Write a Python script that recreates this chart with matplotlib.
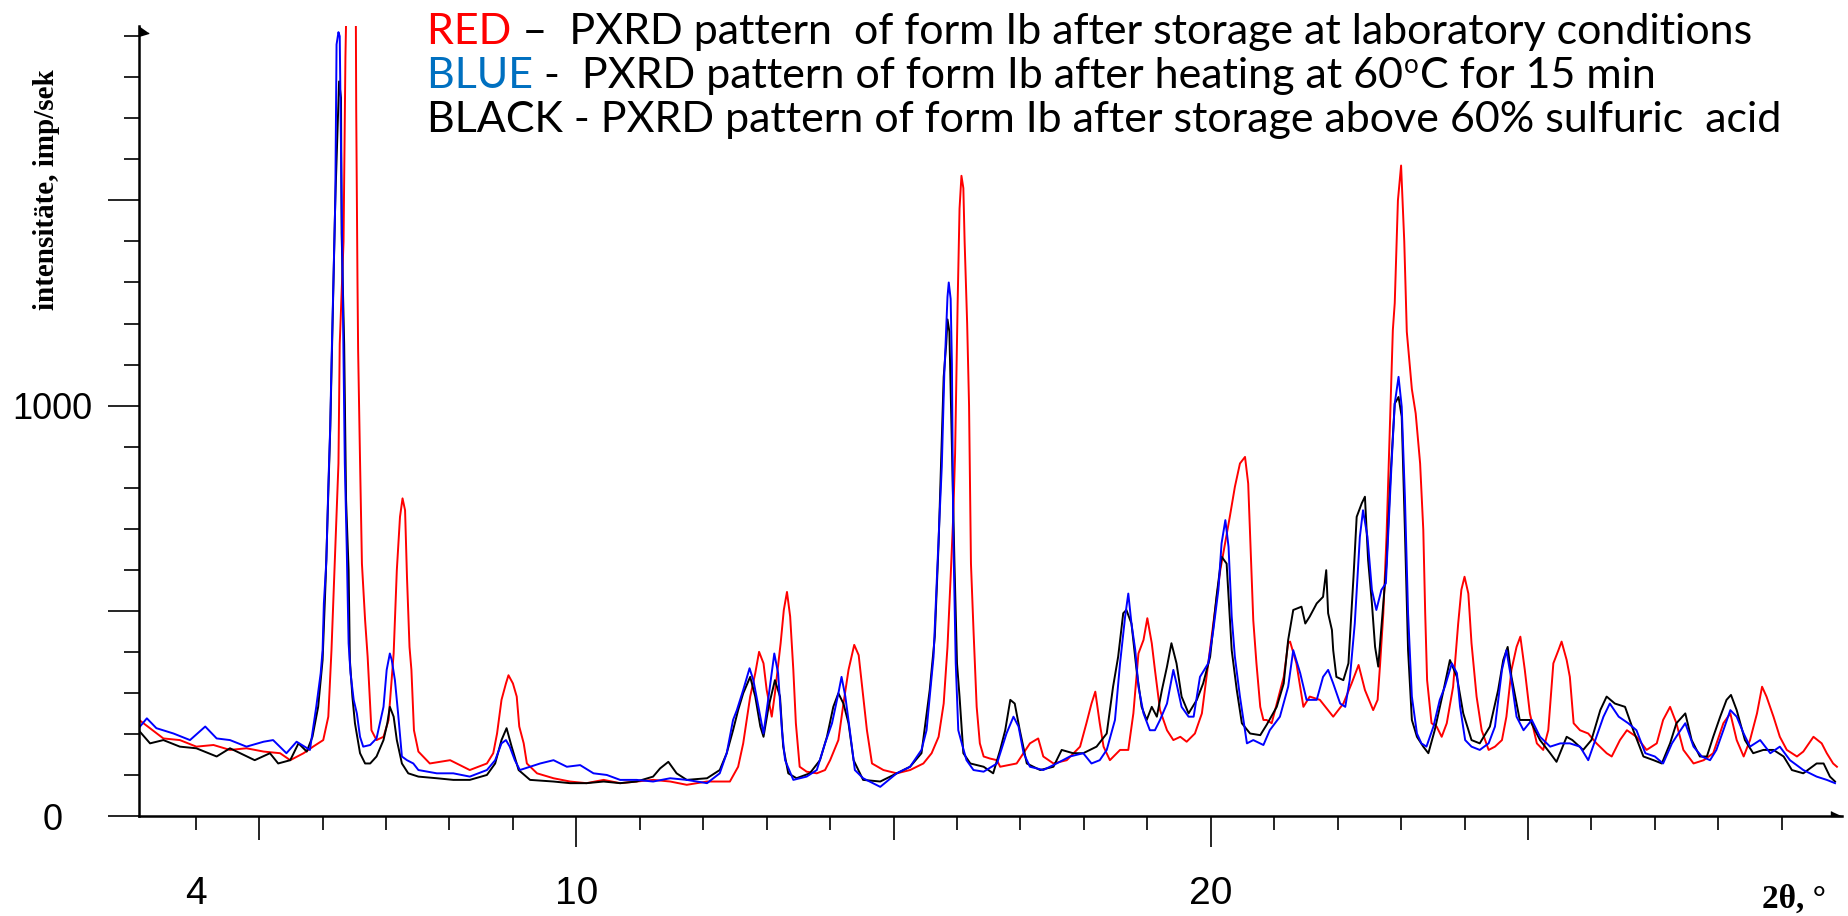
import matplotlib
matplotlib.use('Agg')
import matplotlib.pyplot as plt
from matplotlib.ticker import FixedLocator, MultipleLocator
from matplotlib.transforms import Bbox, IdentityTransform

# 2theta (deg) and intensity (imp/sek) of the three PXRD scans
red_2theta = [3.10, 3.49, 3.75, 4.01, 4.28, 4.54, 4.80, 5.07, 5.33, 5.49, 5.70, 5.85, 6.01, 6.09, 6.14, 6.20,
              6.25, 6.27, 6.33, 6.36, 6.39, 6.52, 6.53, 6.55, 6.56, 6.59, 6.62, 6.67, 6.71, 6.75, 6.77, 6.85,
              6.96, 7.04, 7.12, 7.17, 7.22, 7.26, 7.30, 7.33, 7.37, 7.40, 7.44, 7.51, 7.69, 8.01, 8.32, 8.59,
              8.69, 8.75, 8.82, 8.89, 8.93, 9.00, 9.06, 9.10, 9.17, 9.22, 9.38, 9.64, 9.90, 10.16, 10.43, 10.69,
              10.95, 11.21, 11.48, 11.74, 12.06, 12.42, 12.55, 12.63, 12.74, 12.82, 12.88, 12.95, 13.00, 13.08,
              13.13, 13.22, 13.27, 13.32, 13.37, 13.42, 13.46, 13.52, 13.63, 13.79, 13.92, 14.00, 14.13, 14.21,
              14.29, 14.38, 14.45, 14.51, 14.58, 14.66, 14.84, 15.05, 15.26, 15.47, 15.60, 15.71, 15.79, 15.85,
              15.90, 15.94, 15.97, 16.01, 16.04, 16.07, 16.10, 16.12, 16.16, 16.19, 16.22, 16.26, 16.31, 16.36,
              16.42, 16.52, 16.63, 16.68, 16.94, 17.15, 17.28, 17.36, 17.52, 17.73, 17.94, 18.04, 18.12, 18.18,
              18.25, 18.31, 18.41, 18.57, 18.70, 18.78, 18.86, 18.94, 19.00, 19.07, 19.12, 19.20, 19.31, 19.41,
              19.52, 19.62, 19.75, 19.86, 19.94, 20.04, 20.15, 20.30, 20.38, 20.46, 20.54, 20.59, 20.63, 20.67,
              20.72, 20.78, 20.83, 20.88, 20.96, 21.04, 21.15, 21.22, 21.25, 21.35, 21.46, 21.56, 21.72, 21.93,
              22.09, 22.22, 22.33, 22.43, 22.56, 22.63, 22.67, 22.72, 22.77, 22.83, 22.87, 22.90, 22.95, 23.00,
              23.05, 23.09, 23.13, 23.17, 23.23, 23.30, 23.35, 23.38, 23.41, 23.48, 23.56, 23.64, 23.72, 23.82,
              23.90, 23.95, 24.00, 24.06, 24.11, 24.19, 24.27, 24.38, 24.48, 24.59, 24.66, 24.74, 24.82, 24.88,
              24.95, 25.03, 25.14, 25.24, 25.32, 25.40, 25.48, 25.53, 25.61, 25.66, 25.72, 25.82, 25.95, 26.08,
              26.24, 26.32, 26.45, 26.56, 26.71, 26.87, 27.03, 27.13, 27.24, 27.34, 27.45, 27.61, 27.77, 27.92,
              28.08, 28.19, 28.29, 28.40, 28.50, 28.61, 28.69, 28.76, 28.87, 28.97, 29.08, 29.24, 29.34, 29.50,
              29.63, 29.71, 29.81, 29.87]
red_counts = [235, 189, 185, 169, 173, 161, 165, 157, 153, 136, 153, 169, 185, 242, 404, 656,
              859, 1150, 1400, 1850, 2100, 2100, 1720, 1300, 1135, 867, 615, 477, 388, 266, 209, 185,
              193, 234, 396, 599, 729, 774, 745, 583, 412, 356, 209, 157, 128, 136, 112, 128,
              153, 201, 283, 323, 343, 323, 291, 218, 177, 128, 104, 92, 84, 80, 88, 80,
              84, 88, 84, 76, 84, 84, 120, 177, 291, 348, 400, 372, 307, 242,
              299, 421, 502, 546, 486, 356, 226, 120, 108, 104, 112, 136, 185, 274,
              356, 417, 392, 307, 209, 128, 112, 104, 112, 128, 153, 193, 274, 412,
              583, 729, 883, 1250, 1480, 1560, 1530, 1400, 1200, 1000, 615, 453, 266, 177,
              145, 140, 136, 120, 128, 177, 189, 145, 128, 136, 169, 226, 274, 303,
              226, 169, 136, 161, 161, 250, 396, 429, 482, 421, 356, 258, 209, 185,
              193, 181, 201, 250, 348, 469, 599, 729, 802, 859, 875, 810, 640, 477,
              372, 266, 234, 234, 226, 274, 339, 421, 425, 372, 266, 291, 283, 242,
              274, 323, 368, 307, 258, 283, 372, 494, 680, 981, 1184, 1250, 1500, 1585,
              1400, 1180, 1110, 1040, 981, 859, 697, 494, 331, 226, 218, 193, 226, 315,
              469, 551, 583, 542, 421, 291, 209, 161, 169, 185, 242, 356, 412, 437,
              356, 250, 177, 161, 209, 372, 404, 425, 380, 339, 226, 209, 201, 177,
              153, 145, 185, 209, 193, 161, 177, 234, 266, 226, 161, 128, 136, 153,
              226, 250, 185, 145, 185, 250, 315, 291, 242, 193, 161, 145, 157, 193,
              177, 153, 128, 120]

blue_2theta = [3.10, 3.23, 3.38, 3.65, 3.91, 4.15, 4.33, 4.54, 4.80, 5.07, 5.22, 5.43, 5.59, 5.80, 5.90, 5.97,
               6.00, 6.02, 6.06, 6.09, 6.12, 6.14, 6.20, 6.22, 6.25, 6.27, 6.29, 6.32, 6.35, 6.38, 6.41, 6.44,
               6.49, 6.54, 6.59, 6.64, 6.75, 6.85, 6.96, 7.01, 7.06, 7.09, 7.14, 7.19, 7.25, 7.33, 7.43, 7.51,
               7.80, 8.06, 8.32, 8.59, 8.72, 8.82, 8.89, 8.95, 9.03, 9.11, 9.27, 9.43, 9.64, 9.85, 10.06, 10.27,
               10.48, 10.69, 10.95, 11.21, 11.48, 11.74, 12.06, 12.26, 12.37, 12.47, 12.53, 12.63, 12.73, 12.79,
               12.87, 12.95, 13.03, 13.12, 13.18, 13.24, 13.29, 13.42, 13.63, 13.79, 13.92, 14.03, 14.13, 14.18,
               14.24, 14.31, 14.39, 14.52, 14.79, 15.05, 15.26, 15.44, 15.52, 15.57, 15.63, 15.67, 15.72, 15.76,
               15.80, 15.82, 15.85, 15.87, 15.90, 15.92, 15.94, 15.98, 16.02, 16.09, 16.15, 16.26, 16.42, 16.63,
               16.78, 16.89, 16.97, 17.05, 17.15, 17.36, 17.57, 17.78, 17.99, 18.12, 18.25, 18.36, 18.49, 18.57,
               18.65, 18.70, 18.75, 18.81, 18.86, 18.94, 19.04, 19.12, 19.20, 19.31, 19.41, 19.46, 19.54, 19.65,
               19.73, 19.83, 19.96, 20.04, 20.12, 20.17, 20.23, 20.28, 20.33, 20.38, 20.46, 20.57, 20.67, 20.83,
               20.93, 21.09, 21.22, 21.30, 21.41, 21.51, 21.67, 21.77, 21.85, 21.93, 22.04, 22.12, 22.19, 22.27,
               22.35, 22.40, 22.47, 22.54, 22.61, 22.69, 22.76, 22.80, 22.85, 22.90, 22.96, 23.01, 23.06, 23.11,
               23.17, 23.25, 23.32, 23.40, 23.51, 23.61, 23.69, 23.80, 23.88, 23.93, 24.01, 24.11, 24.24, 24.38,
               24.48, 24.59, 24.66, 24.74, 24.82, 24.93, 25.06, 25.19, 25.35, 25.51, 25.66, 25.82, 25.95, 26.08,
               26.19, 26.29, 26.43, 26.58, 26.71, 26.85, 27.00, 27.13, 27.27, 27.37, 27.48, 27.61, 27.74, 27.87,
               27.97, 28.08, 28.19, 28.29, 28.40, 28.50, 28.66, 28.82, 28.97, 29.13, 29.34, 29.55, 29.71, 29.84]
blue_counts = [214, 238, 214, 201, 185, 218, 189, 185, 169, 181, 185, 153, 181, 161, 266, 348,
               404, 518, 624, 802, 948, 1100, 1500, 1880, 1910, 1900, 1630, 1250, 859, 656, 421, 348,
               283, 250, 193, 169, 173, 189, 266, 356, 396, 380, 331, 250, 145, 136, 128, 112,
               104, 104, 96, 112, 136, 177, 185, 169, 136, 112, 120, 128, 136, 120, 124, 104,
               100, 88, 88, 84, 92, 88, 80, 104, 153, 234, 258, 307, 360, 331,
               266, 201, 291, 396, 348, 209, 136, 88, 96, 112, 177, 226, 299, 339,
               291, 209, 112, 92, 71, 104, 120, 161, 209, 291, 388, 534, 713, 851,
               1078, 1150, 1265, 1300, 1260, 1100, 697, 372, 209, 169, 136, 112, 108, 128,
               201, 242, 218, 153, 120, 112, 128, 145, 153, 128, 136, 161, 234, 372,
               486, 542, 469, 404, 315, 250, 209, 209, 234, 274, 356, 323, 266, 242,
               242, 339, 372, 453, 551, 664, 721, 656, 486, 388, 291, 177, 185, 173,
               209, 242, 315, 404, 348, 283, 283, 339, 356, 323, 274, 266, 331, 469,
               680, 745, 680, 551, 502, 551, 567, 697, 859, 1005, 1070, 997, 778, 494,
               291, 201, 177, 169, 218, 283, 315, 372, 348, 266, 185, 169, 161, 177,
               218, 356, 404, 331, 242, 209, 234, 193, 169, 177, 177, 169, 136, 193,
               242, 274, 242, 226, 209, 153, 145, 128, 177, 201, 226, 169, 145, 136,
               161, 209, 258, 242, 201, 169, 185, 153, 169, 136, 112, 96, 88, 80]

black_2theta = [3.10, 3.28, 3.49, 3.75, 4.01, 4.33, 4.54, 4.70, 4.93, 5.17, 5.30, 5.49, 5.62, 5.75, 5.84, 5.93,
                6.00, 6.05, 6.12, 6.20, 6.26, 6.29, 6.30, 6.34, 6.37, 6.41, 6.43, 6.47, 6.51, 6.59, 6.67, 6.75,
                6.85, 6.96, 7.02, 7.06, 7.12, 7.17, 7.25, 7.35, 7.51, 7.80, 8.06, 8.32, 8.59, 8.72, 8.82, 8.90,
                8.98, 9.09, 9.27, 9.64, 9.90, 10.16, 10.43, 10.69, 10.95, 11.21, 11.32, 11.45, 11.58, 11.74, 12.06,
                12.26, 12.37, 12.47, 12.55, 12.63, 12.74, 12.82, 12.90, 12.95, 13.03, 13.13, 13.21, 13.26, 13.34,
                13.47, 13.68, 13.84, 13.95, 14.05, 14.13, 14.21, 14.29, 14.37, 14.52, 14.79, 15.05, 15.26, 15.44,
                15.57, 15.65, 15.71, 15.79, 15.83, 15.85, 15.88, 15.96, 16.00, 16.04, 16.10, 16.21, 16.42, 16.57,
                16.68, 16.76, 16.84, 16.91, 16.99, 17.10, 17.31, 17.52, 17.65, 17.83, 17.99, 18.20, 18.36, 18.46,
                18.54, 18.62, 18.67, 18.75, 18.83, 18.91, 18.99, 19.07, 19.15, 19.23, 19.31, 19.38, 19.46, 19.54,
                19.65, 19.78, 19.88, 19.99, 20.09, 20.17, 20.25, 20.33, 20.41, 20.49, 20.62, 20.78, 20.88, 21.04,
                21.15, 21.22, 21.30, 21.43, 21.49, 21.56, 21.67, 21.77, 21.82, 21.85, 21.91, 21.93, 21.98, 22.09,
                22.17, 22.25, 22.30, 22.38, 22.43, 22.48, 22.54, 22.59, 22.64, 22.69, 22.77, 22.83, 22.90, 22.96,
                23.01, 23.06, 23.11, 23.17, 23.25, 23.35, 23.43, 23.53, 23.67, 23.77, 23.88, 23.98, 24.11, 24.24,
                24.40, 24.53, 24.61, 24.68, 24.74, 24.87, 25.03, 25.19, 25.35, 25.45, 25.61, 25.70, 25.87, 26.00,
                26.14, 26.24, 26.37, 26.53, 26.66, 26.82, 26.98, 27.11, 27.24, 27.34, 27.48, 27.58, 27.71, 27.82,
                27.92, 28.03, 28.13, 28.20, 28.29, 28.42, 28.55, 28.71, 28.87, 29.03, 29.16, 29.34, 29.55, 29.66,
                29.76, 29.84]
black_counts = [209, 177, 185, 169, 165, 145, 165, 153, 136, 153, 128, 136, 177, 157, 193, 266,
                380, 583, 940, 1500, 1790, 1750, 1420, 1150, 770, 600, 380, 290, 226, 153, 128, 128,
                145, 185, 226, 266, 242, 185, 128, 104, 96, 92, 88, 88, 100, 128, 185, 214,
                169, 112, 88, 84, 80, 80, 84, 80, 84, 96, 116, 132, 104, 88, 92,
                112, 153, 209, 258, 299, 339, 291, 218, 193, 266, 331, 291, 169, 104,
                92, 104, 136, 193, 266, 299, 274, 226, 136, 88, 84, 104, 120, 153,
                307, 437, 664, 1070, 1150, 1210, 1180, 615, 372, 291, 153, 128, 120, 104,
                161, 209, 283, 274, 209, 128, 112, 120, 161, 153, 153, 169, 201, 315,
                388, 494, 502, 469, 356, 266, 234, 266, 242, 307, 364, 421, 372, 291,
                250, 283, 323, 388, 534, 632, 615, 404, 307, 226, 201, 197, 222, 266,
                323, 429, 502, 510, 469, 486, 518, 534, 599, 494, 453, 404, 339, 331,
                372, 583, 729, 762, 778, 624, 518, 412, 364, 461, 615, 818, 1005, 1021,
                973, 697, 404, 234, 193, 169, 153, 209, 307, 380, 339, 250, 185, 177,
                218, 307, 380, 412, 339, 234, 234, 185, 153, 132, 193, 185, 161, 185,
                258, 291, 274, 266, 209, 145, 136, 128, 177, 226, 250, 185, 145, 145,
                193, 242, 283, 295, 258, 185, 153, 161, 161, 145, 112, 104, 128, 128,
                96, 84]

x_ticks = list(range(4, 30))
x_labels = {4: '4', 10: '10', 20: '20'}
y_major = [0, 500, 1000, 1500]
y_labels = ['0', '', '1000', '']

W, H = 1848, 916
fig = plt.figure(figsize=(W / 100, H / 100), dpi=100)
ax = fig.add_axes([139 / W, 100 / H, 1703 / W, 790 / H])

ax.plot(red_2theta, red_counts, color='#ff0000', lw=1.4)
ax.plot(black_2theta, black_counts, color='black', lw=1.4)
ax.plot(blue_2theta, blue_counts, color='#0000ff', lw=1.4)

ax.set_xlim(3.106, 29.95)
ax.set_ylim(0, 1925)

for s in ['top', 'right']:
    ax.spines[s].set_visible(False)
for s in ['left', 'bottom']:
    ax.spines[s].set_linewidth(1.8)

# y axis: long ticks every 500, short every 100
ax.yaxis.set_major_locator(FixedLocator(y_major))
ax.set_yticklabels(y_labels, family='Liberation Sans', fontsize=26, ha='center')
ax.yaxis.set_minor_locator(MultipleLocator(100))
ax.tick_params(axis='y', which='major', direction='out', length=22.3, width=1.2, pad=40)
ax.tick_params(axis='y', which='minor', direction='out', length=10.8, width=1.2)

# x axis: a tick every degree, longer ones at 5 and 10
ax.set_xticks(x_ticks)
ax.set_xticklabels([x_labels.get(v, '') for v in x_ticks],
                   family=['Liberation Sans Narrow', 'Liberation Sans'], fontsize=28)
ax.tick_params(axis='x', direction='out', length=10, width=1.2, pad=33)
for tick, v in zip(ax.xaxis.get_major_ticks(), x_ticks):
    if v % 10 == 0:
        tick.tick1line.set_markersize(22.3)
    elif v % 5 == 0:
        tick.tick1line.set_markersize(17.3)

# small arrow heads at the axis ends
ax.plot([3.106], [1925], marker=[(0, 0), (0, -1), (1, -0.7)], ms=14, color='black', clip_on=False)
ax.plot([29.95], [0], marker=[(0, 0), (-1, 0), (-1, 0.45)], ms=16, color='black', clip_on=False)

fig.text(47 / W, 1 - 190 / H, 'intensitäte, imp/sek', rotation=90, ha='center', va='center',
         family='Liberation Serif', weight='bold', fontsize=21)
fig.text(1762 / W, 8 / H, '2θ, °', ha='left', va='baseline',
         family='Liberation Serif', weight='bold', fontsize=24)

# legend lines written as text, first word coloured
fig.canvas.draw()
renderer = fig.canvas.get_renderer()
fs = 31


def colour_line(x, base, text, word, colour):
    probe = fig.text(x, H - base, word, transform=IdentityTransform(), family='Lato', fontsize=fs)
    cut = probe.get_window_extent(renderer).x1 + 4
    probe.remove()
    left = fig.text(x, H - base, text, transform=IdentityTransform(), family='Lato', fontsize=fs,
                    color=colour, va='baseline')
    left.set_clip_box(Bbox([[0, 0], [cut, H]]))
    left.set_clip_on(True)
    right = fig.text(x, H - base, text, transform=IdentityTransform(), family='Lato', fontsize=fs,
                     color='black', va='baseline')
    right.set_clip_box(Bbox([[cut, 0], [W, H]]))
    right.set_clip_on(True)
    return right.get_window_extent(renderer).x1


colour_line(427, 44, 'RED –  PXRD pattern  of form Ib after storage at laboratory conditions', 'RED', '#ff0000')
x_end = colour_line(427, 88, 'BLUE -  PXRD pattern of form Ib after heating at 60', 'BLUE', '#0070c0')
sup = fig.text(x_end + 1, H - 88 + 15, 'o', transform=IdentityTransform(), family='Lato',
               fontsize=fs * 0.6, va='baseline')
x_end = sup.get_window_extent(renderer).x1
fig.text(x_end + 1, H - 88, 'C for 15 min', transform=IdentityTransform(), family='Lato',
         fontsize=fs, va='baseline')
fig.text(427, H - 132, 'BLACK - PXRD pattern of form Ib after storage above 60% sulfuric  acid',
         transform=IdentityTransform(), family='Lato', fontsize=fs, va='baseline')

fig.savefig('out.png', dpi=100)
